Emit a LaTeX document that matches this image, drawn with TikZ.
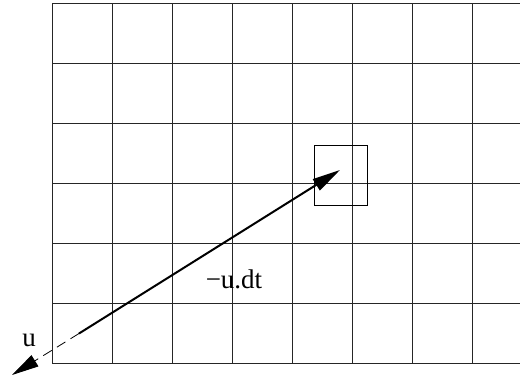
\documentclass[tikz,border=0pt]{standalone}
\usepackage{fontspec}
\setmainfont{Liberation Serif}
\usetikzlibrary{arrows.meta}
\begin{document}
\begin{tikzpicture}[x=1pt,y=1pt,
  gridline/.style={line width=0.8pt,black!85},
  cellbox/.style={draw,line width=0.9pt},
  bigarrow/.style={line width=2pt,-{Triangle[length=28pt,width=13pt]}},
  backarrow/.style={line width=0.8pt,dash pattern=on 10pt off 6pt,-{Triangle[length=27pt,width=13pt]}},
  lbl/.style={font=\fontsize{27}{29}\selectfont,inner sep=0pt}]
\useasboundingbox (0,0) rectangle (520,381);
\foreach \yy in {18,78,138,198,258,318,378}{
  \draw[gridline] (52,\yy) -- (520,\yy);
}
\foreach \xx in {52,112,172,232,292,352,412,472}{
  \draw[gridline] (\xx,18) -- (\xx,378);
}
\node[cellbox,minimum width=53pt,minimum height=60pt,inner sep=0pt] (cell) at (340.5,206) {};
\coordinate (tip) at (340,211);
\coordinate (start) at (79,47.5);
\coordinate (back) at (12,6);
\draw[bigarrow] (start) -- (tip);
\draw[backarrow] (start) -- (back);
\node[lbl] (u) at (29,41) {u};
\node[lbl,anchor=base] (udt) at (234,93) {−u.dt};
\end{tikzpicture}
\end{document}
